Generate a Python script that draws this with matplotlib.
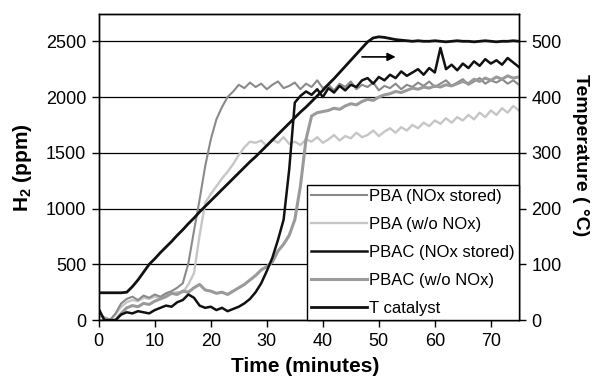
import matplotlib
matplotlib.use('Agg')
import matplotlib.pyplot as plt

plt.rcParams['font.family'] = ['Liberation Sans', 'DejaVu Sans']
plt.rcParams['mathtext.fontset'] = 'custom'
plt.rcParams['mathtext.rm'] = 'Liberation Sans'
plt.rcParams['mathtext.bf'] = 'Liberation Sans:bold'

# time axis (minutes)
minutes = list(range(0, 76))

# H2 (ppm)
pba_nox = [0, 0, 0, 60, 150, 190, 210, 180, 220, 200,
           230, 210, 240, 260, 290, 330, 510, 800, 1080, 1380,
           1620, 1800, 1910, 2000, 2050, 2110, 2080, 2130, 2090, 2120,
           2070, 2110, 2140, 2080, 2100, 2130, 2070, 2120, 2090, 2150,
           2080, 2110, 2060, 2120, 2090, 2140, 2070, 2110, 2090, 2130,
           2060, 2100, 2080, 2120, 2070, 2110, 2090, 2130, 2100, 2140,
           2090, 2120, 2150, 2100, 2130, 2160, 2110, 2140, 2170, 2120,
           2150, 2130, 2160, 2120, 2150, 2110]
pba_wo = [0, 0, 0, 50, 120, 160, 180, 170, 200, 190,
          210, 200, 230, 240, 250, 250, 320, 420, 760, 1050,
          1130, 1200, 1270, 1330, 1400, 1480, 1550, 1600, 1590, 1610,
          1560, 1620, 1590, 1640, 1580, 1600, 1570, 1620, 1600, 1640,
          1590, 1620, 1660, 1610, 1650, 1630, 1680, 1640, 1660, 1700,
          1650, 1690, 1720, 1680, 1730, 1700, 1750, 1720, 1770, 1740,
          1790, 1760, 1810, 1770, 1820, 1790, 1840, 1800, 1860, 1820,
          1880, 1840, 1900, 1860, 1920, 1880]
pbac_nox = [100, 0, 0, 0, 50, 70, 60, 80, 70, 60,
            90, 110, 130, 120, 160, 180, 230, 200, 130, 110,
            120, 90, 110, 80, 100, 120, 150, 190, 250, 330,
            440, 560, 720, 900, 1350, 1950, 2010, 2050, 2020, 2070,
            2000, 2080, 2040, 2100, 2060, 2110, 2090, 2150, 2170, 2120,
            2180, 2150, 2200, 2170, 2230, 2190, 2220, 2250, 2200, 2260,
            2220, 2440, 2250, 2290, 2240, 2300, 2260, 2320, 2280, 2340,
            2300, 2330, 2290, 2350, 2310, 2270]
pbac_wo = [50, 20, 0, 0, 60, 110, 130, 120, 150, 140,
           170, 190, 210, 240, 230, 260, 250, 290, 320, 270,
           260, 240, 250, 230, 260, 290, 320, 360, 400, 450,
           480, 520, 620, 680, 760, 900, 1200, 1620, 1830, 1860,
           1870, 1880, 1900, 1890, 1920, 1940, 1930, 1960, 1980, 1970,
           2000, 2020, 2030, 2050, 2040, 2060, 2080, 2070, 2090, 2080,
           2100, 2090, 2110, 2100, 2120, 2140, 2120, 2160, 2140, 2170,
           2150, 2180, 2160, 2190, 2170, 2180]

# catalyst temperature (C)
t_cat = [49, 49, 49, 49, 49, 50, 60, 72, 86, 100,
         110, 121, 131, 141, 152, 162, 173, 183, 194, 204,
         214, 224, 234, 244, 254, 264, 274, 284, 293, 303,
         313, 323, 333, 343, 353, 363, 373, 382, 392, 402,
         412, 423, 433, 444, 455, 466, 477, 488, 499, 506,
         508, 507, 505, 503, 502, 501, 500, 501, 500, 500,
         501, 500, 499, 500, 501, 500, 500, 499, 500, 501,
         500, 499, 500, 500, 501, 500]

labels = ['PBA (NOx stored)', 'PBA (w/o NOx)', 'PBAC (NOx stored)',
          'PBAC (w/o NOx)', 'T catalyst']

fig = plt.figure(figsize=(5.95, 3.88), dpi=100)
ax = fig.add_axes([0.166, 0.175, 0.706, 0.789])
ax2 = ax.twinx()

l2, = ax.plot(minutes, pba_wo, color='#c6c6c6', lw=1.7, zorder=2)
l1, = ax.plot(minutes, pba_nox, color='#8a8a8a', lw=1.5, zorder=3)
l4, = ax.plot(minutes, pbac_wo, color='#9a9a9a', lw=2.2, zorder=3)
l3, = ax.plot(minutes, pbac_nox, color='#111111', lw=1.8, zorder=4)
l5, = ax2.plot(minutes, t_cat, color='#111111', lw=2.0, zorder=5)

for yv in [500, 1000, 1500, 2000, 2500]:
    ax.axhline(yv, color='black', lw=0.9, zorder=1)

ax.annotate('', xy=(53.5, 2360), xytext=(46.5, 2360),
            arrowprops=dict(arrowstyle='-|>', color='black', lw=1.2,
                            mutation_scale=12))

ax.set_xlim(0, 75)
ax.set_ylim(0, 2745)
ax2.set_ylim(0, 549)
ax.set_xticks(range(0, 71, 10))
ax.set_yticks(range(0, 2501, 500))
ax2.set_yticks(range(0, 501, 100))

for a in (ax, ax2):
    a.tick_params(direction='out', length=5, width=1, labelsize=13, pad=4)
    for s in a.spines.values():
        s.set_linewidth(1.0)

# axis titles placed by figure position
fig.text(305 / 595, 1 - 367 / 388, 'Time (minutes)', fontsize=15,
         fontweight='bold', ha='center', va='center')
fig.text(22 / 595, 1 - 168 / 388, r'H$_{\mathbf{2}}$ (ppm)', fontsize=15,
         fontweight='bold', ha='center', va='center', rotation=90)
fig.text(580 / 595, 1 - 155 / 388, 'Temperature ( °C)', fontsize=14,
         fontweight='bold', ha='center', va='center', rotation=270)

leg = ax2.legend([l1, l2, l3, l4, l5], labels,
                 loc='lower right', borderaxespad=0, fontsize=12,
                 handlelength=3.4, handletextpad=0.1, labelspacing=0.78,
                 fancybox=False, framealpha=1, edgecolor='black',
                 borderpad=0.25)
leg.get_frame().set_linewidth(1.0)

fig.savefig('out.png', dpi=100)
